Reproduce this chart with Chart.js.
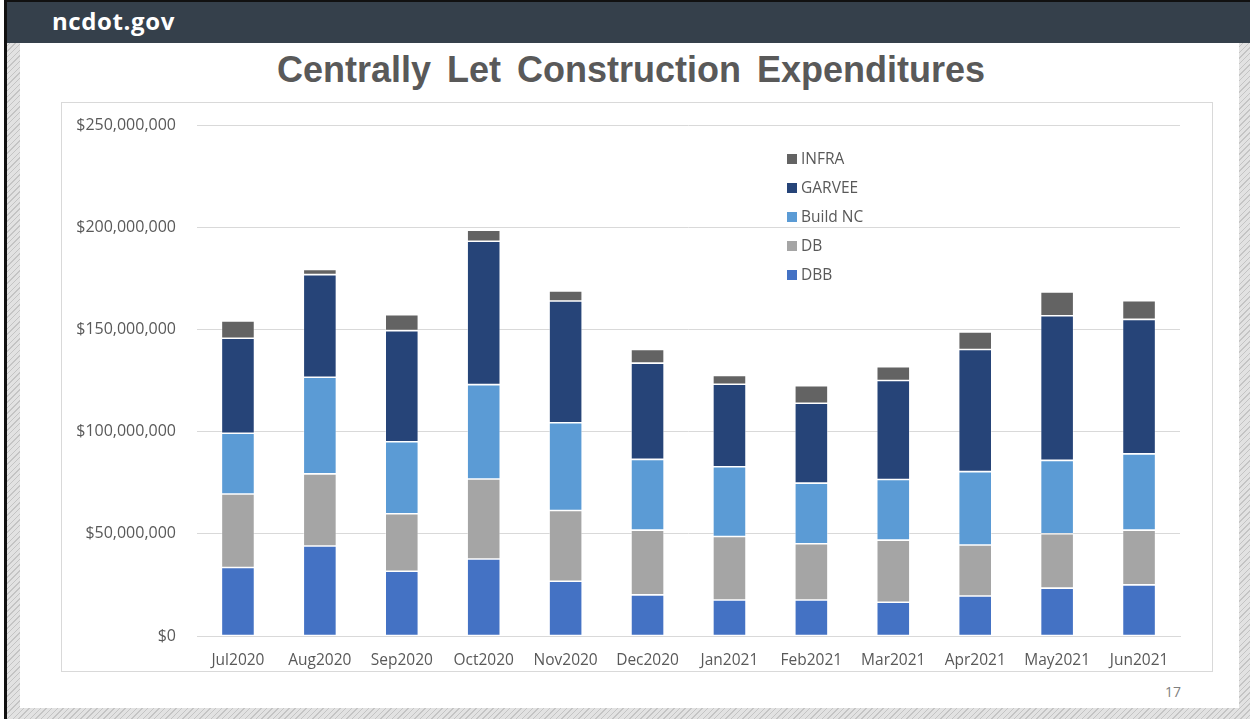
<!DOCTYPE html>
<html>
<head>
<meta charset="utf-8">
<script src="https://cdn.jsdelivr.net/npm/chart.js@4/dist/chart.umd.min.js"></script>
<style>
  html, body { margin: 0; padding: 0; }
  body { width: 1252px; height: 719px; position: relative; overflow: hidden; background: #ffffff; }
  #hatch { position: absolute; left: 7px; top: 0; width: 1243px; height: 719px;
    background: repeating-linear-gradient(135deg, #c4c4c4 0px, #c4c4c4 1px, #e2e2e2 1px, #e2e2e2 4px); }
  #blackline { position: absolute; left: 4px; top: 0; width: 3px; height: 719px; background: #111; }
  #header { position: absolute; left: 7px; top: 0; width: 1243px; height: 41px; background: #35404b; border-top: 2px solid #111; }
  #header span { position: absolute; left: 45px; top: 2px; font-family: "Open Sans", sans-serif; font-weight: 700; font-size: 24px; color: #ffffff; letter-spacing: 0.6px; }
  #slide { position: absolute; left: 20px; top: 43px; width: 1219px; height: 665px; background: #ffffff; }
  #title { position: absolute; left: 0; top: 49px; width: 1262px; text-align: center; font-family: "Liberation Sans", Arial, sans-serif; font-weight: 700; font-size: 36px; color: #595959; word-spacing: 6px; }
  #box { position: absolute; left: 61px; top: 102px; width: 1152px; height: 570px; border: 1px solid #d9d9d9; box-sizing: border-box; background: #fff; }
  #wrap { position: absolute; left: 62px; top: 103px; width: 1150px; height: 568px; }
  #pagenum { position: absolute; left: 1158px; top: 682px; width: 30px; text-align: center; font-family: "Open Sans", sans-serif; font-size: 14px; color: #7f7f7f; }
</style>
</head>
<body>
<div id="hatch"></div>
<div id="blackline"></div>
<div id="header"><span>ncdot.gov</span></div>
<div id="slide"></div>
<div id="title">Centrally Let Construction Expenditures</div>
<div id="box"></div>
<div id="wrap"><canvas id="c" width="1150" height="568"></canvas></div>
<div id="pagenum">17</div>
<script>
// Values in millions of dollars
const categories = ["Jul2020","Aug2020","Sep2020","Oct2020","Nov2020","Dec2020","Jan2021","Feb2021","Mar2021","Apr2021","May2021","Jun2021"];
const seriesNames = ["DBB","DB","Build NC","GARVEE","INFRA"];
const dbb     = [33.5, 44.0, 31.7, 37.7, 26.8, 20.1, 17.6, 17.6, 16.5, 19.6, 23.4, 25.0];
const db      = [36.0, 35.3, 28.1, 39.1, 34.6, 31.7, 31.1, 27.5, 30.4, 24.9, 26.6, 26.8];
const buildNC = [29.7, 47.3, 35.2, 46.2, 42.9, 34.6, 34.1, 29.7, 29.7, 35.9, 35.9, 37.3];
const garvee  = [46.5, 50.2, 54.4, 70.1, 59.6, 47.1, 40.4, 39.1, 48.4, 59.8, 70.8, 65.8];
const infra   = [ 8.4,  2.5,  7.8,  5.4,  4.9,  6.7,  4.3,  8.5,  6.7,  8.5, 11.6,  9.2];
const yTicks  = [0, 50, 100, 150, 200, 250];
const colors  = ["#4472C4", "#A5A5A5", "#5B9BD5", "#264478", "#636363"];

const seriesValues = [dbb, db, buildNC, garvee, infra];
const datasets = seriesNames.map((name, i) => ({
  label: name,
  data: seriesValues[i],
  backgroundColor: colors[i],
  borderColor: "rgba(255,255,255,0.55)",
  borderWidth: 0.8,
  borderSkipped: false,
  barPercentage: 0.405,
  categoryPercentage: 1.0
}));

const FONT = "'Open Sans', sans-serif";
const TXT = "#595959";

const legendPlugin = {
  id: "insideLegend",
  afterDraw(chart) {
    const ctx = chart.ctx;
    const area = chart.chartArea;
    const x0 = area.left + 590;
    const y0 = area.top + 34;
    const rowH = 29;
    ctx.save();
    ctx.font = "15.5px " + FONT;
    ctx.textBaseline = "middle";
    ctx.textAlign = "left";
    const ds = chart.data.datasets;
    for (let k = 0; k < ds.length; k++) {
      const d = ds[ds.length - 1 - k];
      const y = y0 + k * rowH;
      ctx.fillStyle = d.backgroundColor;
      ctx.fillRect(x0, y - 5, 10, 10);
      ctx.fillStyle = TXT;
      ctx.fillText(d.label, x0 + 14, y + 1);
    }
    ctx.restore();
  }
};

new Chart(document.getElementById("c"), {
  type: "bar",
  data: { labels: categories, datasets },
  options: {
    responsive: false,
    animation: false,
    layout: { padding: { top: 22, right: 32, left: 0, bottom: 0 } },
    plugins: { legend: { display: false }, tooltip: { enabled: false } },
    scales: {
      x: {
        stacked: true,
        grid: { display: false, drawTicks: false },
        border: { display: true, color: "#d9d9d9", width: 1 },
        ticks: { color: TXT, font: { family: FONT, size: 15.5 }, padding: 15, maxRotation: 0 },
        afterFit(s) { s.height = 35; s.paddingLeft = 0; s.paddingRight = 0; }
      },
      y: {
        stacked: true,
        min: 0,
        max: 250,
        afterBuildTicks(s) { s.ticks = yTicks.map(v => ({ value: v })); },
        grid: { color: "#d9d9d9", lineWidth: 1, drawTicks: false },
        border: { display: false },
        ticks: {
          color: TXT,
          font: { family: FONT, size: 16 },
          padding: 21,
          callback: v => "$" + (v * 1000000).toLocaleString("en-US")
        },
        afterFit(s) { s.width = 135; s.paddingTop = 0; s.paddingBottom = 0; }
      }
    }
  },
  plugins: [legendPlugin]
});
</script>
</body>
</html>
